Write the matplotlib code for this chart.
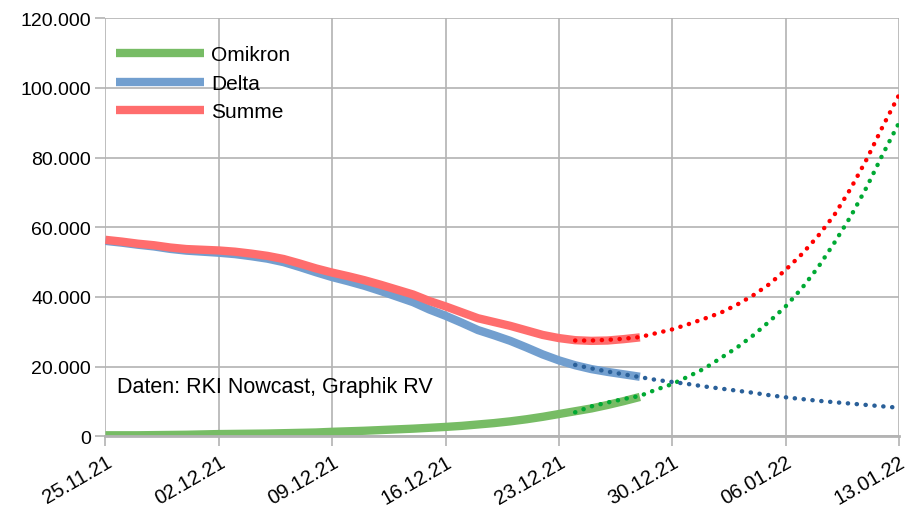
import numpy as np
import pandas as pd
import matplotlib
matplotlib.use("Agg")
from matplotlib import pyplot as plt
from matplotlib.ticker import FuncFormatter

plt.rcParams['font.family'] = ['Liberation Sans', 'DejaVu Sans']

# measured values (RKI Nowcast), 25.11.21 - 28.12.21
days_solid = pd.date_range('2021-11-25', '2021-12-28')
omikron = [300, 300, 300, 350, 400, 450, 550, 650, 700, 750, 800, 900, 1000, 1100,
           1300, 1450, 1600, 1800, 2000, 2200, 2450, 2700, 3000, 3400, 3800, 4300,
           4900, 5600, 6400, 7200, 8000, 9000, 10100, 11300]
delta = [56100, 55600, 55000, 54500, 53800, 53300, 53000, 52700, 52300, 51700, 51000,
         50000, 48600, 47100, 45700, 44500, 43200, 41700, 40100, 38500, 36400, 34600,
         32600, 30500, 29000, 27400, 25500, 23500, 21800, 20400, 19300, 18500, 17800, 17100]
summe = [56400, 55900, 55300, 54850, 54200, 53750, 53550, 53350, 53000, 52450, 51800,
         50900, 49600, 48200, 47000, 45950, 44800, 43500, 42100, 40700, 38850, 37300,
         35600, 33900, 32800, 31700, 30400, 29100, 28200, 27600, 27400, 27500, 27900, 28400]

# projection, 24.12.21 - 13.01.22
days_proj = pd.date_range('2021-12-24', '2022-01-13')
omikron_proj = [6900, 8600, 9700, 10700, 11600, 13400, 15000, 17200, 19500, 22500,
                25500, 29000, 33000, 37300, 42500, 48500, 55500, 63000, 71500, 81000, 90000]
delta_proj = [20500, 19500, 18600, 17800, 17000, 16200, 15600, 15000, 14300, 13700,
              13100, 12500, 11800, 11200, 10700, 10200, 9800, 9400, 9000, 8600, 8200]
summe_proj = [27500, 27500, 27700, 28000, 28500, 29600, 30700, 32200, 33800, 35500, 37800,
              40500, 43700, 47800, 52300, 57500, 63500, 71000, 79500, 89000, 98000]

tick_dates = pd.date_range('2021-11-25', '2022-01-13', freq='7D')
tick_labels = ['25.11.21', '02.12.21', '09.12.21', '16.12.21', '23.12.21',
               '30.12.21', '06.01.22', '13.01.22']

fig = plt.figure(figsize=(9.07, 5.10), dpi=100)
ax = fig.add_axes([0.1163, 0.1425, 0.8749, 0.8197])

ax.plot(days_solid, omikron, color='#77bc65', lw=6, label='Omikron', solid_capstyle='butt')
ax.plot(days_solid, delta, color='#729fcf', lw=6, label='Delta', solid_capstyle='butt')
ax.plot(days_solid, summe, color='#ff6d6d', lw=6, label='Summe', solid_capstyle='butt')

# projections as round dots
for vals, col in [(omikron_proj, '#00a933'), (delta_proj, '#2a6099'), (summe_proj, '#ff0000')]:
    ax.plot(days_proj, vals, color=col, lw=3.2, dashes=(0.05, 1.95), dash_capstyle='round')

ax.set_xlim(tick_dates[0], tick_dates[-1])
ax.set_ylim(0, 120000)
ax.set_yticks(np.arange(0, 120001, 20000))
ax.yaxis.set_major_formatter(FuncFormatter(lambda v, p: f'{int(v):,}'.replace(',', '.')))
ax.set_xticks(tick_dates)
ax.set_xticklabels(tick_labels, rotation=30, ha='right', rotation_mode='anchor')

ax.grid(True, color='#b3b3b3', lw=1.2)
ax.set_axisbelow(True)
for s in ['top', 'right', 'left']:
    ax.spines[s].set_visible(False)
ax.spines['bottom'].set_color('#b3b3b3')
ax.spines['bottom'].set_linewidth(2)
ax.tick_params(axis='both', colors='#b3b3b3', length=7, width=1.2, labelcolor='black',
               labelsize=14)
ax.tick_params(axis='x', pad=4, labelsize=14.5)

ax.text(days_solid[0] + pd.Timedelta(hours=17), 14400, 'Daten: RKI Nowcast, Graphik RV',
        fontsize=15.5, va='center', ha='left')

leg = ax.legend(loc='upper left', frameon=False, fontsize=15, handlelength=4.2,
                handletextpad=0.35, labelspacing=0.45, borderaxespad=0,
                bbox_to_anchor=(0.003, 0.955))
for h in leg.get_lines():
    h.set_linewidth(6)

fig.savefig('out.png', dpi=100)
